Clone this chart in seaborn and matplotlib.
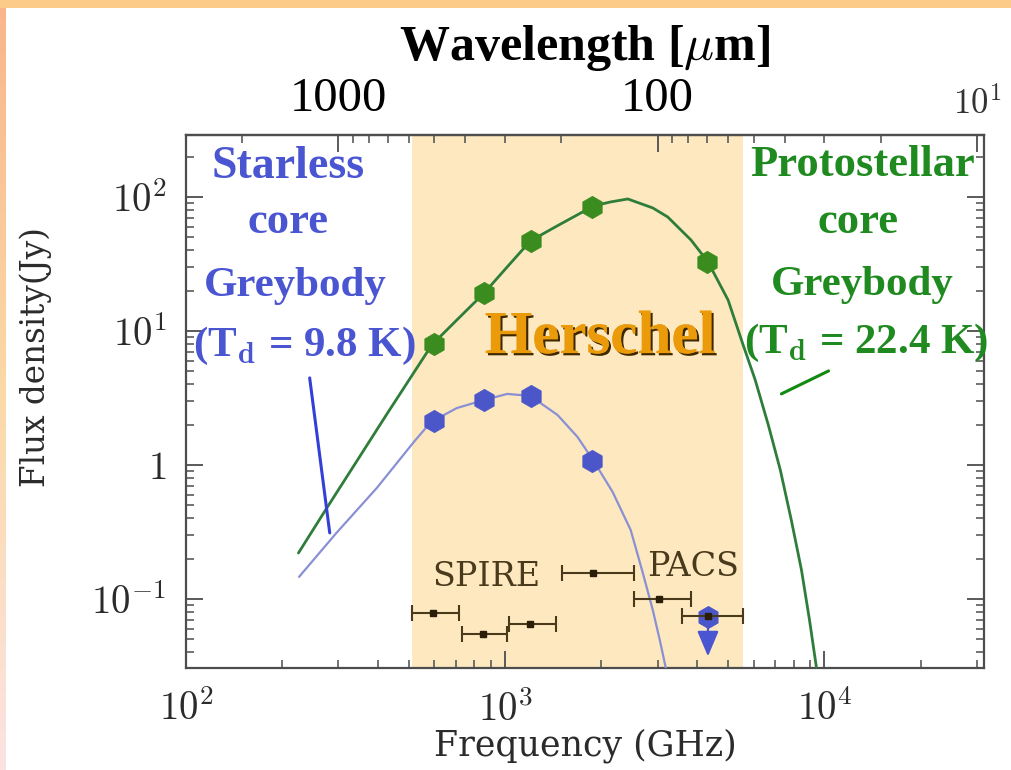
import numpy as np
import matplotlib
matplotlib.use("Agg")
import matplotlib.pyplot as plt
import matplotlib.patheffects as pe
from matplotlib.ticker import NullFormatter
import seaborn as sns

# Herschel band measurements (GHz, Jy)
band_freq = [600, 857, 1200, 1874, 4283]
proto_flux = [8.0, 19.2, 47.0, 84.0, 32.7]
starless_freq = [600, 857, 1200, 1874]
starless_flux = [2.13, 3.05, 3.27, 1.07]
limit_freq = 4315
limit_flux = 0.073
limit_tip = 0.0355

# greybody fits
proto_curve_freq = [225, 275, 343, 426, 589, 706, 859, 1015, 1199, 1458, 1892, 2138,
                    2421, 2898, 3228, 3819, 4318, 4990, 5560, 6067, 6668, 7271, 7870,
                    8472, 8975, 9441]
proto_curve_flux = [0.220, 0.47, 1.07, 2.40, 7.87, 12.1, 19.2, 30.1, 47.0, 61.0,
                    85.7, 91.8, 96.6, 82.8, 70.9, 47.7, 32.7, 17.0, 7.87, 4.31, 1.99,
                    0.918, 0.389, 0.164, 0.0697, 0.0305]
starless_curve_freq = [226, 296, 396, 518, 585, 706, 859, 1015, 1199, 1458, 1683, 1892,
                       2169, 2471, 2698, 2898, 3048, 3184]
starless_curve_flux = [0.146, 0.311, 0.673, 1.49, 2.09, 2.66, 3.05, 3.39, 3.27, 2.36, 1.62,
                       1.07, 0.629, 0.327, 0.156, 0.0828, 0.0494, 0.0305]

# SPIRE / PACS filter widths
filt_freq = [593, 853, 1196, 1879, 3026, 4315]
filt_y = [0.078, 0.0545, 0.0647, 0.156, 0.100, 0.0747]
filt_lo = [510, 733, 1029, 1510, 2530, 3573]
filt_hi = [714, 1015, 1446, 2530, 3820, 5560]

# pointer lines from the labels to the curves
blue_ptr_freq = [244, 282]
blue_ptr_flux = [4.46, 0.311]
green_ptr_freq = [7328, 10300]
green_ptr_flux = [3.39, 5.03]

herschel_span = (510, 5560)
wave_ticks = [1000, 100, 10]
wave_labels = ['1000', '100', '$10^{1}$']

sns.set_theme(style="ticks")
plt.rcParams['font.family'] = ['DejaVu Serif', 'DejaVu Sans']
plt.rcParams['mathtext.fontset'] = 'cm'

BLUE = '#4a55d2'
GREEN = '#1f8a1f'
BROWN = '#4a3a1c'
SPINE = '#4d4d4d'
LABEL = '#2b2b2b'

fig = plt.figure(figsize=(10.12, 7.70), dpi=100)
fig.patch.set_facecolor('white')

# orange frame along top and left edge
top = fig.add_axes([0, 1 - 8 / 770, 1, 8 / 770])
top.set_axis_off()
top.add_patch(plt.Rectangle((0, 0), 1, 1, color='#fccb8a', transform=top.transAxes))
left = fig.add_axes([0, 0, 6 / 1012, 1 - 8 / 770])
grad = np.linspace(0, 1, 256).reshape(-1, 1)
cmap = matplotlib.colors.LinearSegmentedColormap.from_list('edge', ['#fbe3e3', '#fcd9a6', '#f9b68a'])
left.imshow(grad, aspect='auto', cmap=cmap, origin='lower')
left.set_axis_off()

ax = fig.add_axes([186 / 1012, 102 / 770, 798 / 1012, 533 / 770])
ax.set_xscale('log')
ax.set_yscale('log')
ax.set_xlim(100, 31600)
ax.set_ylim(0.0305, 290)

ax.axvspan(*herschel_span, color='#fde8c0', zorder=0, lw=0)

sns.lineplot(x=proto_curve_freq, y=proto_curve_flux, ax=ax, color='#2f7d3a', lw=2.0, sort=False, zorder=3)
sns.lineplot(x=starless_curve_freq, y=starless_curve_flux, ax=ax, color='#8a90d4', lw=1.6, sort=False, zorder=3)

sns.scatterplot(x=band_freq, y=proto_flux, ax=ax, marker='h', s=260, color='#3a8c1e',
                edgecolor='#3a8c1e', linewidth=0.5, zorder=5)
sns.scatterplot(x=starless_freq, y=starless_flux, ax=ax, marker='h', s=260, color='#4b57c9',
                edgecolor='#4b57c9', linewidth=0.5, zorder=5)

# filter widths
xerr = [np.array(filt_freq) - np.array(filt_lo), np.array(filt_hi) - np.array(filt_freq)]
ax.errorbar(filt_freq, filt_y, xerr=xerr, fmt='s', ms=5, color='#2a1e08', ecolor=BROWN,
            elinewidth=1.5, capsize=6, capthick=1.5, zorder=4)

# upper limit in the 70 micron band
ax.scatter([limit_freq], [limit_flux], marker='h', s=240, color='#4b57c9', zorder=3)
ax.annotate('', xy=(limit_freq, limit_tip), xytext=(limit_freq, limit_flux),
            arrowprops=dict(arrowstyle='-|>,head_width=0.55,head_length=1.3', color=BLUE, lw=1.6),
            zorder=3)

ax.plot(blue_ptr_freq, blue_ptr_flux, color='#3340d8', lw=2.2, zorder=4)
ax.plot(green_ptr_freq, green_ptr_flux, color='#118a11', lw=2.2, zorder=4)

# axes ticks and labels
ax.set_xticks([100, 1000, 10000], labels=['$10^{2}$', '$10^{3}$', '$10^{4}$'])
ax.set_yticks([0.1, 1, 10, 100], labels=['$10^{-1}$', '$1$', '$10^{1}$', '$10^{2}$'])
ax.xaxis.set_minor_formatter(NullFormatter())
ax.yaxis.set_minor_formatter(NullFormatter())
ax.tick_params(which='both', direction='in', color=SPINE, top=False, right=True)
ax.tick_params(which='major', length=12, width=1.3, labelsize=28, labelcolor=LABEL, pad=14)
ax.tick_params(which='minor', length=6, width=1.1)
ax.tick_params(axis='x', pad=16)
for s in ax.spines.values():
    s.set_color(SPINE)
    s.set_linewidth(1.6)

ax.set_xlabel('Frequency (GHz)', fontsize=25, color=LABEL, labelpad=0)
ax.set_ylabel('Flux density(Jy)', fontsize=23.5, color=LABEL)
ax.yaxis.set_label_coords(-0.168, 0.583)

sec = ax.secondary_xaxis('top', functions=(lambda f: 3e5 / f, lambda w: 3e5 / w))
sec.set_xticks(wave_ticks, labels=wave_labels)
sec.xaxis.set_minor_formatter(NullFormatter())
sec.tick_params(which='both', direction='in', color=SPINE)
sec.tick_params(which='major', length=12, width=1.3, pad=10)
sec.tick_params(which='minor', length=6, width=1.1)
sec.spines['top'].set_color(SPINE)
sec.spines['top'].set_linewidth(1.6)
for lbl, txt in zip(sec.get_xticklabels(), wave_labels):
    if txt.startswith('$'):
        lbl.set_fontsize(25)
        lbl.set_color('#333333')
    else:
        lbl.set_family('Liberation Serif')
        lbl.set_fontsize(35)
        lbl.set_color('black')
sec.set_xlabel('Wavelength [$\\mu$m]', fontsize=36, fontweight='bold', color='black',
               family='Liberation Serif', labelpad=12)

# annotations
bold = dict(family='Liberation Serif', fontweight='bold', ha='center', va='center')
ax.text(0.128, 0.940, 'Starless', color=BLUE, fontsize=33, transform=ax.transAxes, **bold)
ax.text(0.128, 0.837, 'core', color=BLUE, fontsize=32, transform=ax.transAxes, **bold)
ax.text(0.137, 0.717, 'Greybody', color=BLUE, fontsize=31, transform=ax.transAxes, **bold)
ax.text(0.149, 0.604, '(T$_{\\mathbf{d}}$ = 9.8 K)', color=BLUE, fontsize=31,
        transform=ax.transAxes, **bold)
ax.text(0.848, 0.944, 'Protostellar', color=GREEN, fontsize=32, transform=ax.transAxes, **bold)
ax.text(0.842, 0.837, 'core', color=GREEN, fontsize=32, transform=ax.transAxes, **bold)
ax.text(0.848, 0.719, 'Greybody', color=GREEN, fontsize=31, transform=ax.transAxes, **bold)
ax.text(0.852, 0.610, '(T$_{\\mathbf{d}}$ = 22.4 K)', color=GREEN, fontsize=31,
        transform=ax.transAxes, **bold)

ax.text(0.519, 0.619, 'Herschel', color='#eb9a0a', transform=ax.transAxes,
        family='Liberation Serif', fontweight='bold', fontsize=44, ha='center', va='center',
        path_effects=[pe.withSimplePatchShadow(offset=(1.6, -1.6), shadow_rgbFace='#3d2800', alpha=1),
                      pe.Normal()], zorder=6)

ax.text(0.376, 0.171, 'SPIRE', color=BROWN, transform=ax.transAxes, fontsize=24,
        ha='center', va='center')
ax.text(0.635, 0.189, 'PACS', color=BROWN, transform=ax.transAxes, fontsize=24,
        ha='center', va='center')

fig.savefig('out.png', dpi=100)
